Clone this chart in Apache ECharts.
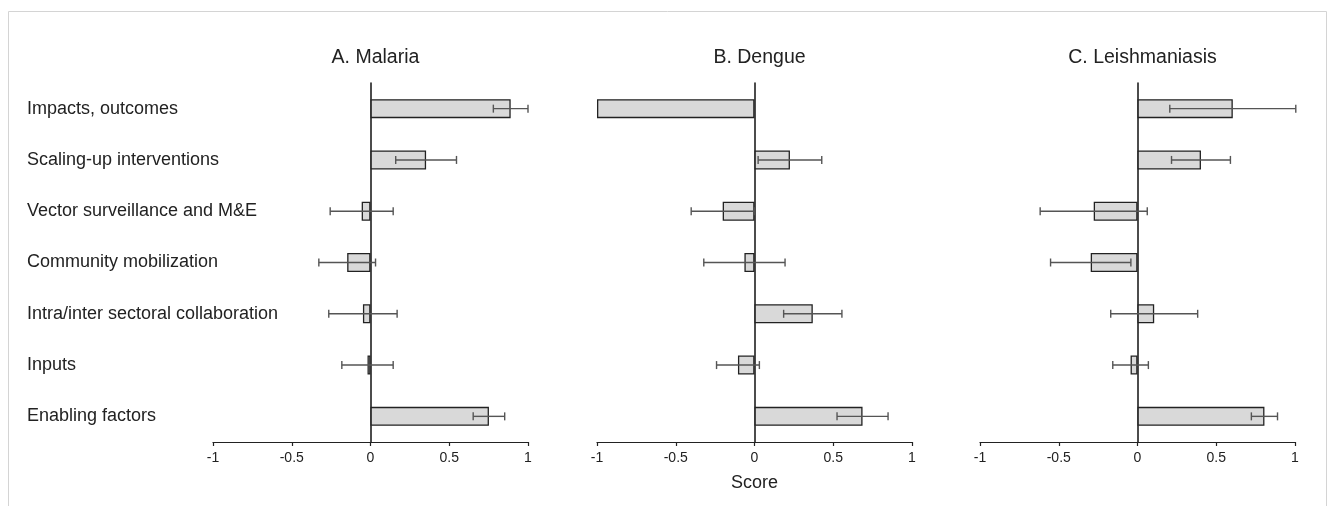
<!DOCTYPE html>
<html>
<head>
<meta charset="utf-8">
<script src="https://cdn.jsdelivr.net/npm/echarts@6/dist/echarts.min.js"></script>
<style>html,body{margin:0;padding:0;background:#fff;}#c{width:1331px;height:506px;}</style>
</head>
<body>
<div id="c"></div>
<script>
var categories = ["Impacts, outcomes", "Scaling-up interventions", "Vector surveillance and M&E", "Community mobilization", "Intra/inter sectoral collaboration", "Inputs", "Enabling factors"];
var panelTitles = ["A. Malaria", "B. Dengue", "C. Leishmaniasis"];
var xTicks = [-1, -0.5, 0, 0.5, 1];

var malariaMean = [0.89, 0.353, -0.056, -0.148, -0.048, -0.019, 0.752];
var malariaErr  = [0.11, 0.193, 0.2, 0.18, 0.217, 0.163, 0.1];
var dengueMean  = [-1.0, 0.225, -0.202, -0.064, 0.37, -0.105, 0.686];
var dengueErr   = [0, 0.202, 0.2, 0.258, 0.185, 0.136, 0.162];
var leishMean   = [0.605, 0.403, -0.278, -0.297, 0.106, -0.044, 0.806];
var leishErr    = [0.4, 0.187, 0.34, 0.255, 0.276, 0.113, 0.083];

var means = [malariaMean, dengueMean, leishMean];
var errs = [malariaErr, dengueErr, leishErr];
var gridLefts = [213, 597, 980];
var FONT = "Liberation Sans, Arial, sans-serif";

var grids = [], xAxes = [], yAxes = [], series = [], titles = [];
for (var p = 0; p < 3; p++) {
  grids.push({left: gridLefts[p], width: 315, top: 83, height: 359, containLabel: false});
  xAxes.push({
    type: 'value', gridIndex: p, min: xTicks[0], max: xTicks[xTicks.length - 1], interval: 0.5,
    splitLine: {show: false},
    axisLine: {show: true, onZero: false, lineStyle: {color: '#222', width: 1.2}},
    axisTick: {show: true, length: 4, lineStyle: {color: '#222', width: 1.2}},
    axisLabel: {color: '#222', fontSize: 14, fontFamily: FONT, margin: 9,
      formatter: function (v) { return String(v); }},
    name: p === 1 ? 'Score' : '', nameLocation: 'middle', nameGap: 32,
    nameTextStyle: {color: '#222', fontSize: 18, fontFamily: FONT}
  });
  yAxes.push({
    type: 'category', gridIndex: p, data: categories, inverse: true,
    axisLine: {show: true, onZero: true, lineStyle: {color: '#111', width: 1.5}},
    axisTick: {show: false}, axisLabel: {show: false}, splitLine: {show: false}
  });
  titles.push({text: panelTitles[p], left: gridLefts[p] + 157.5, top: 43, textAlign: 'center',
    textStyle: {fontSize: 19.5, fontWeight: 'normal', color: '#222', fontFamily: FONT}});
  series.push({
    type: 'bar', xAxisIndex: p, yAxisIndex: p, data: means[p], barWidth: 19,
    itemStyle: {color: '#d9d9d9', borderColor: '#222', borderWidth: 1.3},
    silent: true, z: 2
  });
  var ed = [];
  for (var i = 0; i < categories.length; i++) {
    if (errs[p][i] > 0) ed.push([means[p][i] - errs[p][i], means[p][i] + errs[p][i], i]);
  }
  series.push({
    type: 'custom', xAxisIndex: p, yAxisIndex: p, data: ed, z: 5, silent: true,
    renderItem: function (params, api) {
      var lo = api.coord([api.value(0), api.value(2)]);
      var hi = api.coord([api.value(1), api.value(2)]);
      var y = lo[1], h = 4;
      var st = {stroke: '#555', lineWidth: 1.4};
      return {type: 'group', children: [
        {type: 'line', shape: {x1: lo[0], y1: y, x2: hi[0], y2: y}, style: st},
        {type: 'line', shape: {x1: lo[0], y1: y - h, x2: lo[0], y2: y + h}, style: st},
        {type: 'line', shape: {x1: hi[0], y1: y - h, x2: hi[0], y2: y + h}, style: st}
      ]};
    },
    encode: {x: [0, 1], y: 2}
  });
}
// category label axis for panel A
yAxes.push({
  type: 'category', gridIndex: 0, data: categories, inverse: true, position: 'left',
  axisLine: {show: false}, axisTick: {show: false}, splitLine: {show: false},
  axisLabel: {show: true, align: 'left', margin: 186, color: '#222', fontSize: 18, fontFamily: FONT}
});
series.push({type: 'bar', xAxisIndex: 0, yAxisIndex: 3, data: [], silent: true});

var chart = echarts.init(document.getElementById('c'), null, {renderer: 'canvas'});
chart.setOption({
  animation: false,
  backgroundColor: '#fff',
  title: titles,
  grid: grids,
  xAxis: xAxes,
  yAxis: yAxes,
  series: series,
  graphic: [{type: 'rect', shape: {x: 8.5, y: 11.5, width: 1318, height: 520}, style: {fill: 'none', stroke: '#d4d4d4', lineWidth: 1}, silent: true}]
});
</script>
</body>
</html>
